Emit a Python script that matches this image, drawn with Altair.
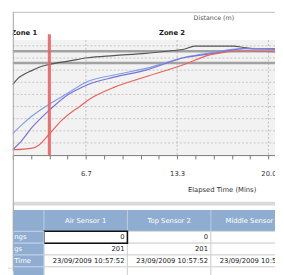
import json
import altair as alt
import pandas as pd

# ---------------- data ----------------
# elapsed time (minutes) / value pairs for the four sensor traces
air_t = [1.33, 1.69, 2.04, 2.75, 3.25, 4.03, 5.38, 6.79, 8.71, 11.05, 12.7, 13.89, 14.6, 17.4, 18.3, 19.0, 20.48]
air_v = [58, 63, 65.8, 69.8, 72.4, 74.8, 77.4, 80.2, 82, 83.8, 85.8, 87.4, 89.8, 89.8, 88.5, 87.6, 87.6]

top_t = [1.33, 2.04, 2.75, 4.03, 5.27, 6.79, 8.71, 11.05, 13.89, 15.87, 18.28, 20.48]
top_v = [17.8, 25.5, 32.4, 42.2, 50.5, 60.6, 66, 71.4, 80.6, 84.4, 88, 87.2]

mid_t = [1.33, 1.83, 2.75, 4.0, 5.38, 5.87, 6.79, 8.71, 11.05, 13.89, 15.87, 18.28, 20.48]
mid_v = [4.4, 10, 23, 37, 50, 53, 58, 64.2, 70, 80.4, 83.6, 87.6, 87.2]

bot_t = [1.33, 2.75, 3.25, 4.03, 4.88, 5.73, 6.09, 6.79, 7.29, 8.71, 11.05, 13.89, 15.87, 18.28, 20.48]
bot_v = [4.4, 5.8, 8.4, 17.8, 28.4, 36.4, 39, 45, 48.4, 55.8, 64.6, 74.8, 83, 85.8, 85]

series_names = ["Air Sensor 1", "Top Sensor 2", "Middle Sensor 3", "Bottom Sensor 4"]
series_colors = ["#555555", "#7f9fe6", "#7b70d6", "#e8605c"]

threshold_values = [85.6, 75.8]
grid_values = [10, 20, 30, 40, 50, 60, 70, 80, 90]
major_ticks = [20 / 3, 40 / 3, 20.0]
major_labels = ["6.7", "13.3", "20.0"]
marker_time = [4.0]
zone_names = ["Zone 1", "Zone 2"]
zone_time = [2.16, 12.96]

sensors = ["Air Sensor 1", "Top Sensor 2", "Middle Sensor 3"]
row_ids = ["r1", "r2", "r3", "r4"]
row_labels = ["ngs", "gs", "Time", ""]
row_values = [
    ["0", "0", ""],
    ["201", "201", ""],
    ["23/09/2009 10:57:52", "23/09/2009 10:57:52", "23/09/2009 10:57:52"],
    ["", "", ""],
]

# ---------------- scales ----------------
T0, T1 = 4 / 3, 20.48
W, H = 270, 267
FONT = "DejaVu Sans"
xs = alt.Scale(domain=[T0, T1], range=[0, W], nice=False, zero=False)
ys = alt.Scale(domain=[0, 90], range=[147.5, 35], nice=False, zero=False)

lines_df = pd.concat([
    pd.DataFrame({"series": n, "t": t, "v": v})
    for n, t, v in zip(series_names, [air_t, top_t, mid_t, bot_t], [air_v, top_v, mid_v, bot_v])
])

minor_ticks = [k * 4 / 3 for k in range(1, 16)]
lab_arr = [""] * 16
for mt, ml in zip(major_ticks, major_labels):
    lab_arr[round(mt * 0.75)] = ml
label_expr = json.dumps(lab_arr) + "[round(datum.value*0.75)]"

# ---------------- plot part ----------------
bg = alt.Chart(pd.DataFrame({"a": [0]})).mark_rect(color="#f2f2f2").encode(
    x=alt.value(0), x2=alt.value(W), y=alt.value(29), y2=alt.value(147.5)
)

hgrid = alt.Chart(pd.DataFrame({"v": grid_values})).mark_rule(
    color="#c4c4c4", strokeDash=[2, 2], strokeWidth=1
).encode(y=alt.Y("v:Q", scale=ys, axis=None), x=alt.value(0), x2=alt.value(W))

vgrid = alt.Chart(pd.DataFrame({"t": major_ticks})).mark_rule(
    color="#bdbdbd", strokeDash=[2, 2], strokeWidth=1
).encode(x=alt.X("t:Q", scale=xs, axis=None), y=alt.value(29), y2=alt.value(147.5))

bands = alt.Chart(pd.DataFrame({"v": threshold_values})).mark_rule(
    color="#a2a2a2", strokeWidth=2.6
).encode(y=alt.Y("v:Q", scale=ys, axis=None), x=alt.value(0), x2=alt.value(W))

lines = alt.Chart(lines_df).mark_line(strokeWidth=1.2, interpolate="monotone").encode(
    x=alt.X("t:Q", scale=xs, axis=alt.Axis(
        values=minor_ticks, labelExpr=label_expr, grid=False, offset=-119.5,
        tickSize=4, tickColor="#777", domainColor="#777", labelColor="#333",
        labelFont=FONT, labelFontSize=7, labelPadding=11, labelOverlap=False,
        labelFlush=False, title="Elapsed Time (Mins)", titleFont=FONT,
        titleFontSize=7, titleFontWeight="normal", titleColor="#333",
        titleX=215, titleY=35, titleAlign="center", titleBaseline="middle")),
    y=alt.Y("v:Q", scale=ys, axis=None),
    color=alt.Color("series:N", scale=alt.Scale(domain=series_names, range=series_colors), legend=None),
    detail="series:N",
)

marker = alt.Chart(pd.DataFrame({"t": marker_time})).mark_rule(
    color="#e26565", strokeWidth=3.2, opacity=0.9
).encode(x=alt.X("t:Q", scale=xs, axis=None), y=alt.value(23), y2=alt.value(147.5))

zones = alt.Chart(pd.DataFrame({"t": zone_time, "name": zone_names})).mark_text(
    font=FONT, fontSize=7, fontWeight="bold", color="#222", clip=True, baseline="middle"
).encode(x=alt.X("t:Q", scale=xs, axis=None), y=alt.value(22), text="name:N")

distance = alt.Chart(pd.DataFrame({"s": ["Distance (m)"]})).mark_text(
    font=FONT, fontSize=6.5, color="#555", baseline="middle"
).encode(x=alt.value(207), y=alt.value(6), text="s:N")

# ---------------- frame and table ----------------
frame_left = alt.Chart(pd.DataFrame({"a": [0]})).mark_rule(color="#a8a8a8").encode(
    x=alt.value(0.5), y=alt.value(0), y2=alt.value(H))
frame_top = alt.Chart(pd.DataFrame({"a": [0]})).mark_rule(color="#c4c4c4").encode(
    x=alt.value(0), x2=alt.value(W + 5), y=alt.value(0.5))
separator = alt.Chart(pd.DataFrame({"a": [0]})).mark_rect(color="#d9d9d9").encode(
    x=alt.value(0), x2=alt.value(W + 5), y=alt.value(195.5), y2=alt.value(199.5))
side_line = alt.Chart(pd.DataFrame({"a": [0]})).mark_rule(color="#c3d7ee").encode(
    x=alt.value(-5), x2=alt.value(0), y=alt.value(264))

HEAD_BLUE = "#8fadd0"
header_bg = alt.Chart(pd.DataFrame({"a": [0]})).mark_rect(color=HEAD_BLUE).encode(
    x=alt.value(0), x2=alt.value(W + 5), y=alt.value(204), y2=alt.value(226))

colx = alt.Scale(type="band", domain=sensors, range=[32, 290], paddingInner=0, paddingOuter=0)
rowy = alt.Scale(type="band", domain=row_ids, range=[226, 274.8], paddingInner=0, paddingOuter=0)

head_df = pd.DataFrame({"sensor": sensors})
header_div = alt.Chart(head_df).mark_rule(color="#bccde3").encode(
    x=alt.X("sensor:N", scale=colx, axis=None, bandPosition=0),
    y=alt.value(204), y2=alt.value(226))
header_txt = alt.Chart(head_df).mark_text(font=FONT, fontSize=7, color="white", baseline="middle").encode(
    x=alt.X("sensor:N", scale=colx, axis=None, bandPosition=0.5),
    y=alt.value(215), text="sensor:N")

cells_df = pd.DataFrame([
    {"sensor": s, "row": r, "value": row_values[i][j]}
    for i, r in enumerate(row_ids) for j, s in enumerate(sensors)
])
cells = alt.Chart(cells_df).mark_rect(fill="white", stroke="#d2d2d2", strokeWidth=1).encode(
    x=alt.X("sensor:N", scale=colx, axis=None),
    y=alt.Y("row:N", scale=rowy, axis=None))
cell_txt = alt.Chart(cells_df).mark_text(font=FONT, fontSize=7, color="#222", align="right",
                                         baseline="middle", dx=-3).encode(
    x=alt.X("sensor:N", scale=colx, axis=None, bandPosition=1),
    y=alt.Y("row:N", scale=rowy, axis=None, bandPosition=0.5),
    text="value:N")
selected = alt.Chart(cells_df.iloc[[0]]).mark_rect(fillOpacity=0, stroke="#111", strokeWidth=1.6).encode(
    x=alt.X("sensor:N", scale=colx, axis=None),
    y=alt.Y("row:N", scale=rowy, axis=None))

rows_df = pd.DataFrame({"row": row_ids, "label": row_labels})
row_head = alt.Chart(rows_df).mark_rect(fill=HEAD_BLUE, stroke="#c2d2e6", strokeWidth=1).encode(
    x=alt.value(0.5), x2=alt.value(32),
    y=alt.Y("row:N", scale=rowy, axis=None))
row_txt = alt.Chart(rows_df).mark_text(font=FONT, fontSize=7, color="white", align="left",
                                        baseline="middle").encode(
    x=alt.value(1.5),
    y=alt.Y("row:N", scale=rowy, axis=None, bandPosition=0.5),
    text="label:N")

chart = alt.layer(
    bg, hgrid, vgrid, bands, lines, marker, zones, distance,
    separator, header_bg, header_div, header_txt,
    cells, cell_txt, selected, row_head, row_txt,
    frame_left, frame_top, side_line,
).resolve_scale(x="independent", y="independent").properties(
    width=W, height=H, autosize="none",
    padding={"left": 5, "top": 0, "right": 0, "bottom": 0},
).configure_view(stroke=None).configure(background="white")

chart.save("out.html", embed_options={"renderer": "svg", "actions": False})
